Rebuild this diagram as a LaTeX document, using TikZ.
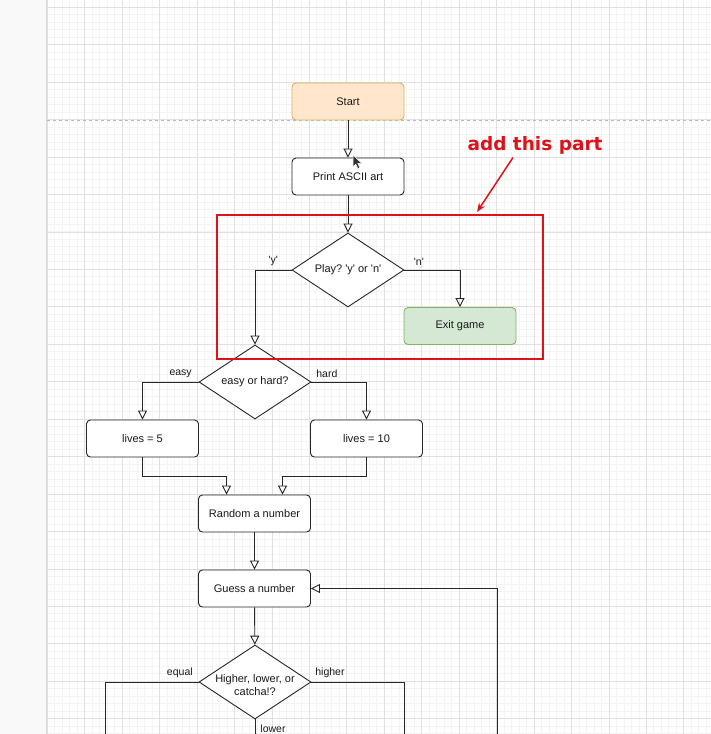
\documentclass[tikz,border=0pt]{standalone}
\usepackage{fontspec}
\setmainfont{Liberation Sans}
\newfontfamily\notafont{DejaVu Sans}
\usetikzlibrary{shapes.geometric,arrows.meta}
\frenchspacing

\definecolor{rojomarca}{RGB}{222,18,24}
\definecolor{naranjaf}{RGB}{255,230,204}
\definecolor{naranjab}{RGB}{214,178,96}
\definecolor{verdef}{RGB}{213,232,212}
\definecolor{verdeb}{RGB}{130,179,102}
\definecolor{rejilla}{RGB}{224,224,224}
\definecolor{rejillafina}{RGB}{244,244,244}
\definecolor{margen}{RGB}{249,249,249}

\newcommand{\cq}[1]{\textquotesingle#1\textquotesingle}

\tikzset{
  paso/.style={draw=black!85, line width=0.9pt, fill=white, rounded corners=4pt,
    minimum width=112pt, minimum height=37pt, inner sep=0pt, text=black!90,
    font=\fontsize{11}{13}\selectfont},
  decision/.style={draw=black!85, line width=0.9pt, fill=white, diamond,
    minimum width=112pt, minimum height=74pt, inner sep=0pt},
  texto/.style={font=\fontsize{11}{13.5}\selectfont, text=black!90, align=center},
  rama/.style={font=\fontsize{10.5}{12}\selectfont, text=black!90, inner sep=1pt},
  linea/.style={draw=black!85, line width=0.9pt},
  flecha/.style={linea, -{Triangle[open, length=9pt, width=9pt]}},
  marca/.style={draw=rojomarca, line width=2pt},
}

\begin{document}
\begin{tikzpicture}[x=1pt, y=-1pt]
    \useasboundingbox (0,0) rectangle (711,734);
    \clip (0,0) rectangle (711,734);
    % Fondo y rejilla
    \fill[white] (0,0) rectangle (711,734);
    \fill[margen] (0,0) rectangle (46,734);
    \foreach \i in {0,...,89} \draw[rejillafina] ({47+7.49*\i},0) -- ({47+7.49*\i},734);
    \foreach \j in {0,...,98} \draw[rejillafina] (47,{-0.5+7.49*\j}) -- (711,{-0.5+7.49*\j});
    \foreach \i in {0,...,17} \draw[rejilla] ({47+37.45*\i},0) -- ({47+37.45*\i},734);
    \foreach \j in {0,...,19} \draw[rejilla] (47,{7+37.45*\j}) -- (711,{7+37.45*\j});
    \draw[black!15, line width=1.5pt] (46.5,0) -- (46.5,734);
    \draw[black!28, dash pattern=on 3pt off 3pt] (47,120) -- (711,120);

    % Pasos
    \node[paso, fill=naranjaf, draw=naranjab] (inicio) at (348,101.5) {Start};
    \node[paso] (ascii) at (348,176.5) {Print ASCII art};
    \node[decision, label={[texto]center:{Play? \cq{y} or \cq{n}}}] (jugar) at (348,270) {};
    \node[paso, fill=verdef, draw=verdeb] (salir) at (460,326) {Exit game};
    \node[decision, label={[texto]center:{easy or hard?}}] (nivel) at (255,382) {};
    \node[paso] (vidas5) at (142.5,438.5) {lives = 5};
    \node[paso] (vidas10) at (366.5,438.5) {lives = 10};
    \node[paso] (azar) at (254.5,513.5) {Random a number};
    \node[paso] (adivina) at (254.5,588.5) {Guess a number};
    \node[decision, label={[texto, yshift=-3pt]center:{Higher, lower, or\\catcha!?}}] (compara) at (255,682) {};

    % Extremos sueltos
    \coordinate (igual) at (105,745);
    \coordinate (mayor) at (404,745);
    \coordinate (menor) at (255,745);
    \coordinate (retorno) at (497,745);

    % Conectores
    \draw[flecha] (inicio) -- (ascii);
    \draw[flecha] (ascii) -- (jugar);
    \draw[flecha] (jugar.west) -| node[rama, pos=0.25, above=3pt] {\cq{y}} (nivel.north);
    \draw[flecha] (jugar.east) -| node[rama, pos=0.13, above=3pt] {\cq{n}} (salir.north);
    \draw[flecha] (nivel.west) -| node[rama, pos=0.16, above=3pt] {easy} (vidas5.north);
    \draw[flecha] (nivel.east) -| node[rama, pos=0.14, above=3pt] {hard} (vidas10.north);
    \draw[flecha] (vidas5.south) -- ++(0,19) -| ([xshift=-28pt]azar.north);
    \draw[flecha] (vidas10.south) -- ++(0,19) -| ([xshift=28pt]azar.north);
    \draw[flecha] (azar) -- (adivina);
    \draw[flecha] (adivina) -- (compara);
    \draw[linea] (compara.west) -| node[rama, pos=0.1, above=3pt] {equal} (igual);
    \draw[linea] (compara.east) -| node[rama, pos=0.1, above=3pt] {higher} (mayor);
    \draw[linea] (compara.south) -- node[rama, pos=0.35, right=4pt] {lower} (menor);
    \draw[flecha] (retorno) |- (adivina.east);

    % Parte marcada en rojo
    \draw[marca] (217,215) rectangle (543,359);
    \node[font=\notafont\bfseries\fontsize{18.5}{22}\selectfont, text=rojomarca] (nota) at (535,145) {add this part};
    \coordinate (punta) at (477,212);
    \draw[rojomarca, line width=1.5pt, -{Stealth[length=9pt, width=7pt]}] ([xshift=-22pt]nota.south) -- (punta);

    % Cursor
    \fill[black!80, draw=white, line width=0.5pt, shift={(353,155)}, scale=0.8]
        (0,0) -- (0,15) -- (3.5,11.5) -- (6,17) -- (8.5,16) -- (6,10.5) -- (11,10.5) -- cycle;
\end{tikzpicture}
\end{document}
